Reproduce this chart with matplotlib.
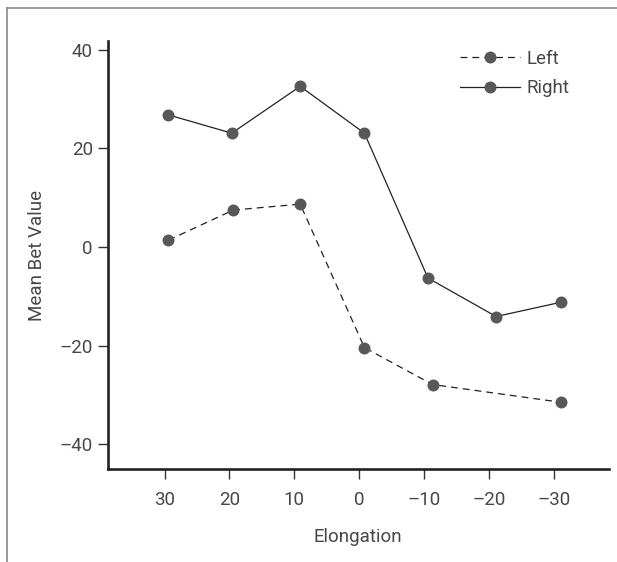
import matplotlib
matplotlib.use("Agg")
import matplotlib.pyplot as plt
from matplotlib.lines import Line2D

# Data
elong_right = [29.4, 19.65, 9.1, -0.8, -10.6, -21.1, -31.1]
bet_right = [26.8, 23.1, 32.6, 23.1, -6.3, -14.1, -11.2]
elong_left = [29.4, 19.4, 9.1, -0.8, -11.3, -31.1]
bet_left = [1.4, 7.5, 8.7, -20.4, -27.9, -31.5]
xticks = [30, 20, 10, 0, -10, -20, -30]
yticks = [-40, -20, 0, 20, 40]

plt.rcParams['font.family'] = ['Roboto', 'Liberation Sans', 'DejaVu Sans']
plt.rcParams['axes.unicode_minus'] = False

W, H = 617, 562
fig = plt.figure(figsize=(W / 100, H / 100), dpi=100)
ax = fig.add_axes([107.5 / W, (H - 469.3) / H, (609 - 107.5) / W, (469.3 - 41) / H])

txt = '#474747'
mk = '#58585a'
ln = '#222222'
fs = 13.5

ax.plot(elong_left, bet_left, linestyle=(0, (5.5, 4)), color=ln, lw=0.9,
        marker='o', ms=7.6, mfc=mk, mec=mk, label='Left')
ax.plot(elong_right, bet_right, linestyle='-', color=ln, lw=0.9,
        marker='o', ms=7.6, mfc=mk, mec=mk, label='Right')

ax.set_xlim(38.8, -38.5)
ax.set_ylim(-45.1, 41.8)
ax.set_xticks(xticks)
ax.set_xticklabels([str(t).replace('-', '\u2013') for t in xticks])
ax.set_yticks(yticks)
ax.set_yticklabels([str(t).replace('-', '\u2013') for t in yticks])

for s in ['top', 'right']:
    ax.spines[s].set_visible(False)
for s in ['left', 'bottom']:
    ax.spines[s].set_linewidth(1.9)
    ax.spines[s].set_color('#222222')

ax.tick_params(axis='both', direction='out', length=7.5, width=1.0,
               colors='#333333', labelsize=fs, labelcolor=txt)
ax.tick_params(axis='y', pad=3)
ax.tick_params(axis='x', pad=8)

ax.set_xlabel('Elongation', fontsize=fs, color=txt, labelpad=14)
ax.set_ylabel('Mean Bet Value', fontsize=fs, color=txt, labelpad=10)

leg = fig.legend(loc='upper left', bbox_to_anchor=(452 / W, 1 - 42 / H),
                 frameon=False, prop={'size': fs},
                 handlelength=3.2, handletextpad=0.38,
                 labelspacing=0.62, borderaxespad=0.0)
for t in leg.get_texts():
    t.set_color(txt)

# outer frame (top and left lines)
fc = '#8a8a8a'
fig.add_artist(Line2D([7 / W, 1.0], [1 - 8 / H, 1 - 8 / H], transform=fig.transFigure,
                      color=fc, lw=1.2))
fig.add_artist(Line2D([7 / W, 7 / W], [0, 1 - 8 / H], transform=fig.transFigure,
                      color=fc, lw=1.2))

fig.savefig('out.png', dpi=100)
